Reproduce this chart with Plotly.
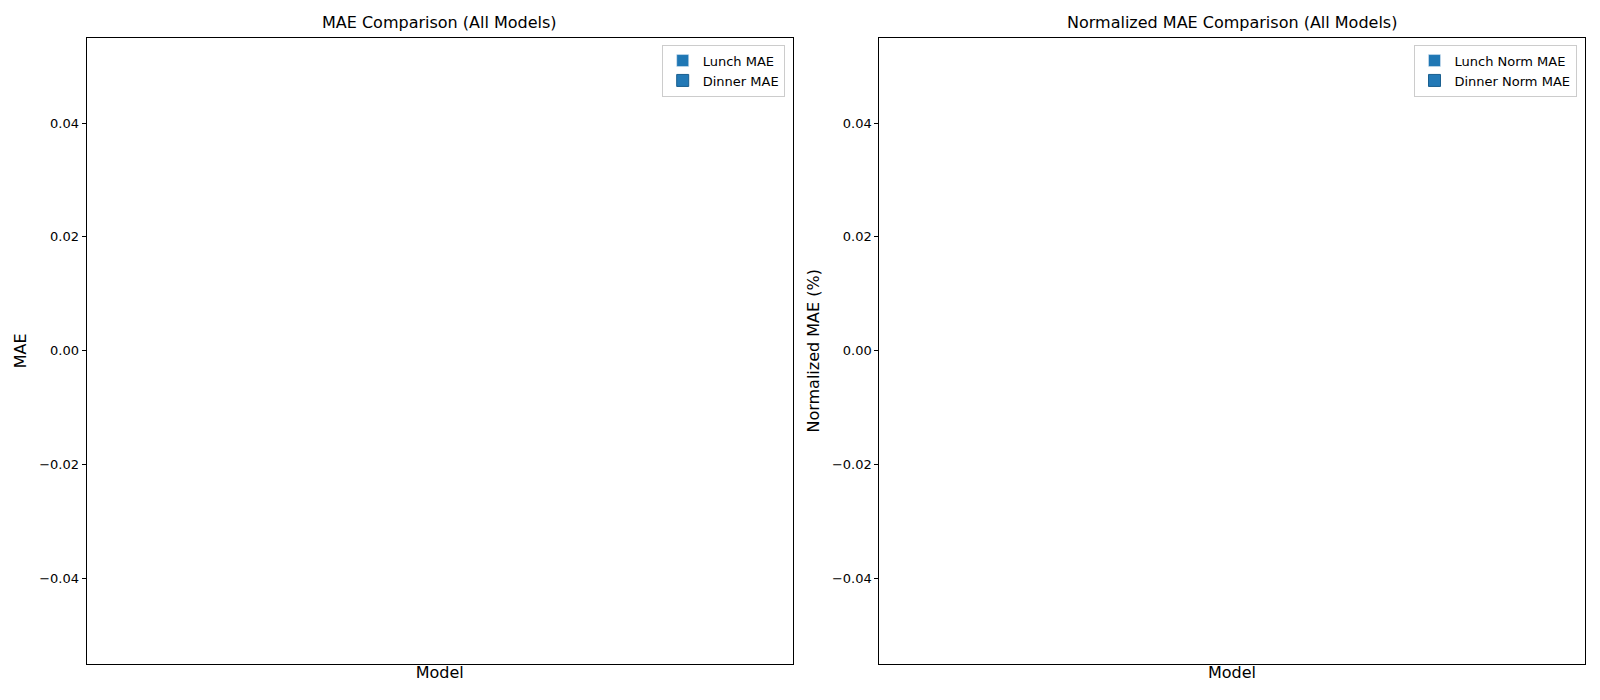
import plotly.graph_objects as go

models = [""]
lunch_mae = [None]
dinner_mae = [None]
lunch_norm = [None]
dinner_norm = [None]
yticks = [-0.04, -0.02, 0.0, 0.02, 0.04]

W, H = 1600, 700
fig = go.Figure()
c1, c2 = "#1f77b4", "#2379b6"
edge = dict(color="#1a5f8f", width=1)
fig.add_bar(x=models, y=lunch_mae, name="Lunch MAE", marker=dict(color=c1), xaxis="x", yaxis="y", legend="legend", showlegend=True)
fig.add_bar(x=models, y=dinner_mae, name="Dinner MAE", marker=dict(color=c2, line=edge), xaxis="x", yaxis="y", legend="legend", showlegend=True)
fig.add_bar(x=models, y=lunch_norm, name="Lunch Norm MAE", marker=dict(color=c1), xaxis="x2", yaxis="y2", legend="legend2", showlegend=True)
fig.add_bar(x=models, y=dinner_norm, name="Dinner Norm MAE", marker=dict(color=c2, line=edge), xaxis="x2", yaxis="y2", legend="legend2", showlegend=True)

def px(a, b, tot): return [a / tot, b / tot]

ax_common = dict(showline=True, mirror=True, linecolor="black", linewidth=1, showgrid=False, zeroline=False)
yax = dict(ax_common, range=[-0.055, 0.055], tickvals=yticks, tickformat=".2f", ticks="outside", ticklen=4, tickcolor="black")
xax = dict(ax_common, showticklabels=False, range=[-0.5, 0.5], fixedrange=True)

left_dom = px(78.6, 784.7, W)
right_dom = px(871.4, 1576.5, W)
ydom = [1 - 656 / H, 1 - 29.6 / H]
legbox = dict(bgcolor="rgba(255,255,255,0.8)", bordercolor="#cccccc", borderwidth=1, xanchor="right", yanchor="top", font=dict(size=13), tracegroupgap=0)
fig.update_layout(
    width=W, height=H, margin=dict(l=0, r=0, t=0, b=0),
    plot_bgcolor="white", paper_bgcolor="white",
    font=dict(family="DejaVu Sans", size=13, color="black"),
    barmode="group", showlegend=True,
    xaxis=dict(xax, domain=left_dom, title=dict(text="Model", standoff=2)),
    yaxis=dict(yax, domain=ydom, title=dict(text="MAE", standoff=8)),
    xaxis2=dict(xax, domain=right_dom, anchor="y2", title=dict(text="Model", standoff=2)),
    yaxis2=dict(yax, domain=ydom, anchor="x2", title=dict(text="Normalized MAE (%)", standoff=8)),
    legend=dict(legbox, x=left_dom[1] - 0.005, y=ydom[1] - 0.01),
    legend2=dict(legbox, x=right_dom[1] - 0.005, y=ydom[1] - 0.01),
    annotations=[
        dict(text="MAE Comparison (All Models)", x=sum(left_dom) / 2, y=1 - 14.3 / H, xref="paper", yref="paper", showarrow=False, font=dict(size=16), xanchor="center", yanchor="middle"),
        dict(text="Normalized MAE Comparison (All Models)", x=sum(right_dom) / 2, y=1 - 14.3 / H, xref="paper", yref="paper", showarrow=False, font=dict(size=16), xanchor="center", yanchor="middle"),
    ],
)
fig.write_html("out.html")
